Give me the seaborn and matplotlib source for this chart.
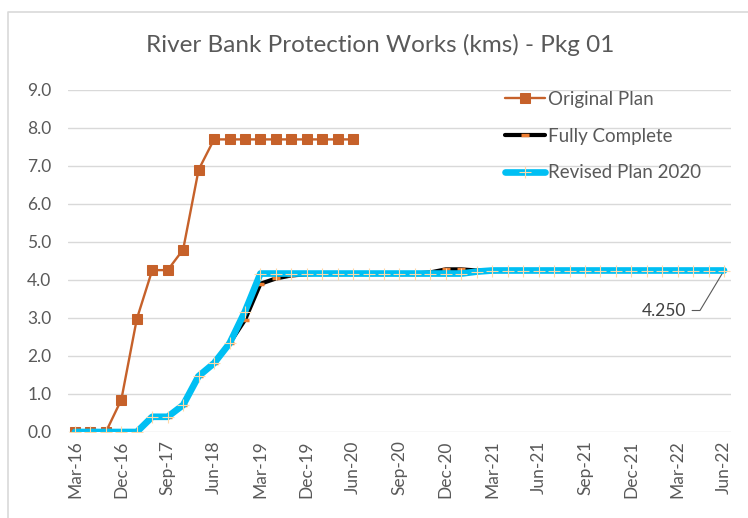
import numpy as np
import pandas as pd
import matplotlib
matplotlib.use("Agg")
import matplotlib.pyplot as plt
import seaborn as sns
from matplotlib.lines import Line2D

# ---------------- data ----------------
categories = [
    "Mar-16", "Jun-16", "Sep-16", "Dec-16", "Mar-17", "Jun-17", "Sep-17", "Dec-17",
    "Mar-18", "Jun-18", "Sep-18", "Dec-18", "Mar-19", "Jun-19", "Sep-19", "Dec-19",
    "Mar-20", "May-20", "Jun-20", "Jul-20", "Aug-20", "Sep-20", "Oct-20", "Nov-20",
    "Dec-20", "Jan-21", "Feb-21", "Mar-21", "Apr-21", "May-21", "Jun-21", "Jul-21",
    "Aug-21", "Sep-21", "Oct-21", "Nov-21", "Dec-21", "Jan-22", "Feb-22", "Mar-22",
    "Apr-22", "May-22", "Jun-22",
]
original_plan = [0, 0, 0, 0.85, 2.97, 4.26, 4.26, 4.80, 6.90, 7.70,
                 7.70, 7.70, 7.70, 7.70, 7.70, 7.70, 7.70, 7.70, 7.70]
fully_complete = [0, 0, 0, 0, 0, 0.40, 0.40, 0.71, 1.47, 1.81,
                  2.33, 2.95, 3.90, 4.04, 4.12, 4.15, 4.17, 4.17, 4.17, 4.17,
                  4.17, 4.17, 4.17, 4.20, 4.28, 4.28, 4.25, 4.25]
revised_plan_2020 = [0, 0, 0, 0, 0, 0.40, 0.40, 0.71, 1.47, 1.81,
                     2.33, 3.17, 4.17, 4.17, 4.17, 4.17, 4.17, 4.17, 4.17, 4.17,
                     4.17, 4.17, 4.17, 4.17, 4.17, 4.17, 4.22, 4.25, 4.25, 4.25,
                     4.25, 4.25, 4.25, 4.25, 4.25, 4.25, 4.25, 4.25, 4.25, 4.25,
                     4.25, 4.25, 4.25]
series_names = ["Original Plan", "Fully Complete", "Revised Plan 2020"]
y_ticks = [0, 1, 2, 3, 4, 5, 6, 7, 8, 9]
title = "River Bank Protection Works (kms) - Pkg 01"
label_step = 3

# ---------------- style ----------------
sns.set_theme(style="white")
plt.rcParams["font.family"] = ["Lato", "DejaVu Sans"]
text_gray = "#595959"
orange = "#C6612A"
cyan = "#00BFF3"

fig = plt.figure(figsize=(7.48, 5.18), dpi=100)
ax = fig.add_axes([68 / 748, 1 - 432 / 518, (731 - 68) / 748, (432 - 90) / 518])

df_o = pd.DataFrame({"x": np.arange(len(original_plan)), "y": original_plan})
df_f = pd.DataFrame({"x": np.arange(len(fully_complete)), "y": fully_complete})
df_r = pd.DataFrame({"x": np.arange(len(revised_plan_2020)), "y": revised_plan_2020})

sns.lineplot(data=df_o, x="x", y="y", ax=ax, color=orange, lw=1.7,
             marker="s", markersize=6.5, markeredgecolor=orange,
             label=series_names[0], zorder=3)
sns.lineplot(data=df_f, x="x", y="y", ax=ax, color="black", lw=3,
             marker="_", markersize=6, markeredgewidth=2.5,
             markeredgecolor="#ED7D31", label=series_names[1], zorder=4)
sns.lineplot(data=df_r, x="x", y="y", ax=ax, color=cyan, lw=4.8,
             marker="+", markersize=9, markeredgewidth=0.8,
             markeredgecolor="#FFD9A8", label=series_names[2], zorder=5)

ax.set_xlim(-0.45, len(categories) - 1 + 0.45)
ax.set_ylim(0, 9)
xt = list(range(0, len(categories), label_step))
ax.set_xticks(xt)
ax.set_xticklabels([categories[i] for i in xt], rotation=90)
ax.set_yticks(y_ticks)
ax.set_yticklabels([f"{v:.1f}" for v in y_ticks])
ax.tick_params(axis="both", length=0, colors=text_gray, labelsize=12.5)
ax.tick_params(axis="x", pad=6)
ax.tick_params(axis="y", pad=12)
ax.set_xlabel("")
ax.set_ylabel("")
ax.yaxis.grid(True, color="#D9D9D9", lw=1)
ax.xaxis.grid(False)
ax.set_axisbelow(True)
for s in ax.spines.values():
    s.set_visible(False)

leg = ax.legend(loc="upper left", bbox_to_anchor=(505 / 748, 1 - 91 / 518),
                bbox_transform=fig.transFigure, frameon=False, fontsize=13.5,
                handlelength=2.15, handletextpad=0.15, labelspacing=1.05,
                borderpad=0, borderaxespad=0)
for t in leg.get_texts():
    t.set_color(text_gray)

ax.annotate(f"{revised_plan_2020[-1]:.3f}", xy=(len(revised_plan_2020) - 1, revised_plan_2020[-1]),
            xytext=(-38, -40), textcoords="offset pixels", ha="right", va="center",
            fontsize=12.5, color="#404040",
            arrowprops=dict(arrowstyle="-", color="#595959", lw=0.8, shrinkA=2, shrinkB=0,
                            relpos=(1, 0.5),
                            connectionstyle="angle,angleA=0,angleB=-121,rad=0"))

fig.text(380 / 748, 1 - 45 / 518, title, ha="center", va="center",
         fontsize=17.5, color=text_gray)

fig.add_artist(Line2D([8 / 748, 8 / 748, 1], [0, 1 - 12 / 518, 1 - 12 / 518],
                      transform=fig.transFigure, color="#D9D9D9", lw=1.2))

fig.savefig("out.png", dpi=100)
